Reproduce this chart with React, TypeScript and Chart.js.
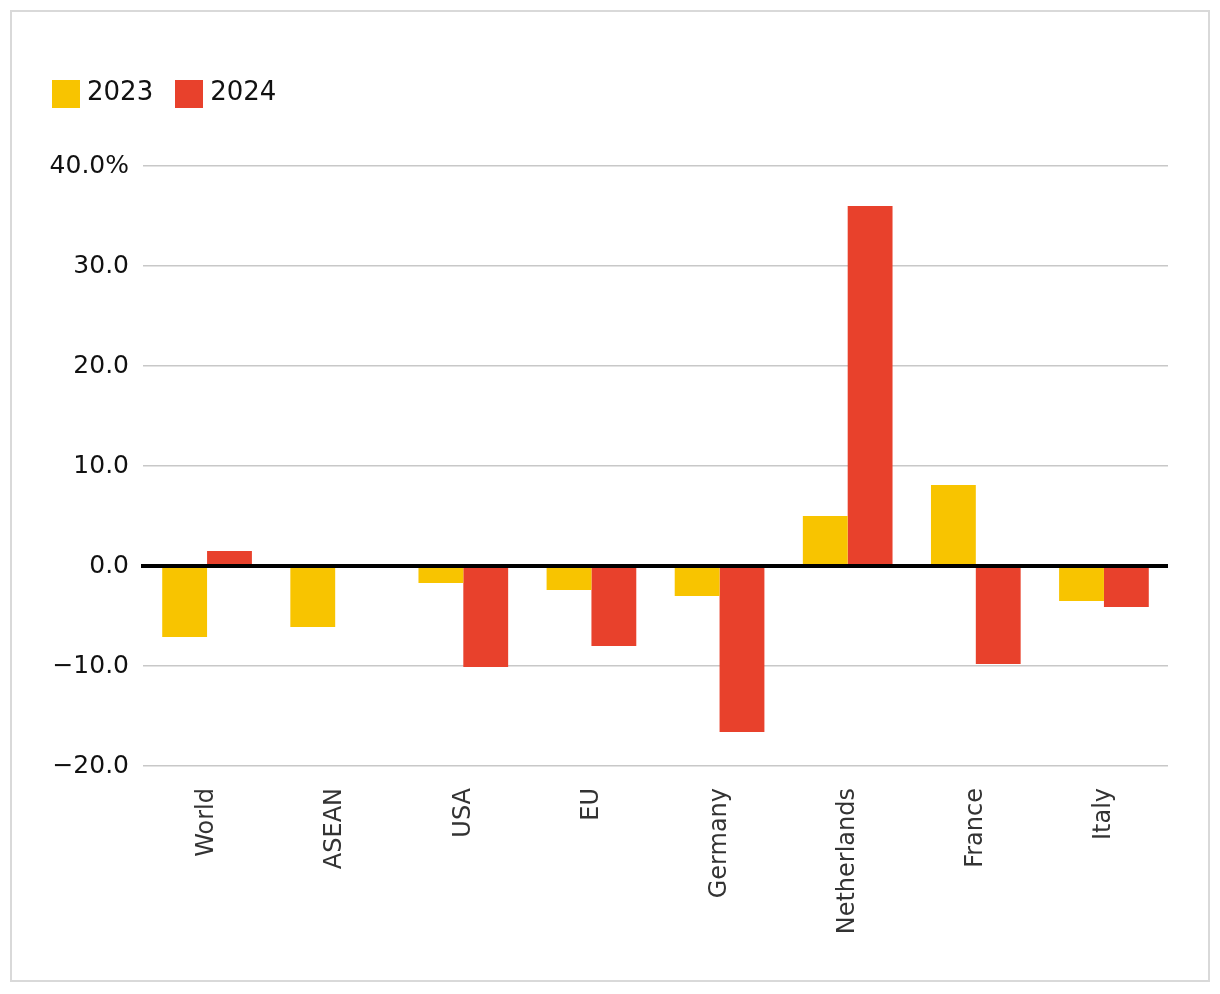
import React, { useEffect, useRef } from "react";
import { Chart, registerables } from "chart.js";

Chart.register(...registerables);

const categories = ["World", "ASEAN", "USA", "EU", "Germany", "Netherlands", "France", "Italy"];
const values2023 = [-7.1, -6.1, -1.7, -2.4, -3.0, 5.0, 8.1, -3.5];
const values2024 = [1.5, 0, -10.1, -8.0, -16.6, 36.0, -9.8, -4.1];
const seriesLabels = ["2023", "2024"];
const seriesColors = ["#F8C400", "#E8412C"];
const yTickValues = [-20, -10, 0, 10, 20, 30, 40];
const yTickLabels = ["\u221220.0", "\u221210.0", "0.0", "10.0", "20.0", "30.0", "40.0%"];

const FONT = "'DejaVu Sans', sans-serif";

const zeroLinePlugin = {
  id: "zeroLine",
  afterDatasetsDraw(chart: any) {
    const y = chart.scales.y;
    const area = chart.chartArea;
    const py = y.getPixelForValue(0);
    const ctx = chart.ctx;
    ctx.save();
    ctx.strokeStyle = "#000000";
    ctx.lineWidth = 4;
    ctx.beginPath();
    ctx.moveTo(area.left - 2, py);
    ctx.lineTo(area.right, py);
    ctx.stroke();
    ctx.restore();
  },
};

export default function App() {
  const ref = useRef<HTMLCanvasElement | null>(null);

  useEffect(() => {
    if (!ref.current) return;
    const chart = new Chart(ref.current, {
      type: "bar",
      data: {
        labels: categories,
        datasets: [
          { label: seriesLabels[0], data: values2023, backgroundColor: seriesColors[0], borderWidth: 0 },
          { label: seriesLabels[1], data: values2024, backgroundColor: seriesColors[1], borderWidth: 0 },
        ],
      },
      options: {
        responsive: false,
        animation: false,
        layout: { padding: { left: 30, right: 40, top: 154, bottom: 0 } },
        plugins: {
          legend: { display: false },
          tooltip: { enabled: false },
        },
        datasets: { bar: { categoryPercentage: 0.7, barPercentage: 1.0 } },
        scales: {
          x: {
            grid: { display: false, drawTicks: false },
            border: { display: false },
            ticks: {
              minRotation: 90,
              maxRotation: 90,
              autoSkip: false,
              padding: 22,
              color: "#333333",
              font: { family: FONT, size: 24 },
            },
            afterFit: (s: any) => {
              s.height = 214;
            },
          },
          y: {
            min: -20,
            max: 40,
            afterBuildTicks: (s: any) => {
              s.ticks = yTickValues.map((v) => ({ value: v }));
            },
            grid: { color: "#c8c8c8", lineWidth: 1.5, drawTicks: false },
            border: { display: false },
            ticks: {
              padding: 14,
              color: "#111111",
              font: { family: FONT, size: 25 },
              callback: (v: any) => {
                const i = yTickValues.indexOf(Number(v));
                return i >= 0 ? yTickLabels[i] : "";
              },
            },
            afterFit: (s: any) => {
              s.width = 101;
            },
          },
        },
      },
      plugins: [zeroLinePlugin],
    });
    return () => chart.destroy();
  }, []);

  const legendText: React.CSSProperties = {
    fontFamily: FONT,
    fontSize: 26,
    lineHeight: "26px",
    color: "#111111",
    marginTop: -2,
  };

  return (
    <div
      style={{
        position: "absolute",
        left: 10,
        top: 10,
        width: 1200,
        height: 972,
        boxSizing: "border-box",
        border: "2px solid #d9d9d9",
        background: "#ffffff",
      }}
    >
      <canvas ref={ref} width={1196} height={968} style={{ display: "block", width: 1196, height: 968 }} />
      <div
        style={{
          position: "absolute",
          left: 40,
          top: 68,
          display: "flex",
          alignItems: "flex-start",
        }}
      >
        {seriesLabels.map((lab, i) => (
          <div key={lab} style={{ display: "flex", alignItems: "flex-start", marginRight: 22 }}>
            <div style={{ width: 28, height: 28, background: seriesColors[i], marginRight: 7 }} />
            <span style={legendText}>{lab}</span>
          </div>
        ))}
      </div>
    </div>
  );
}
